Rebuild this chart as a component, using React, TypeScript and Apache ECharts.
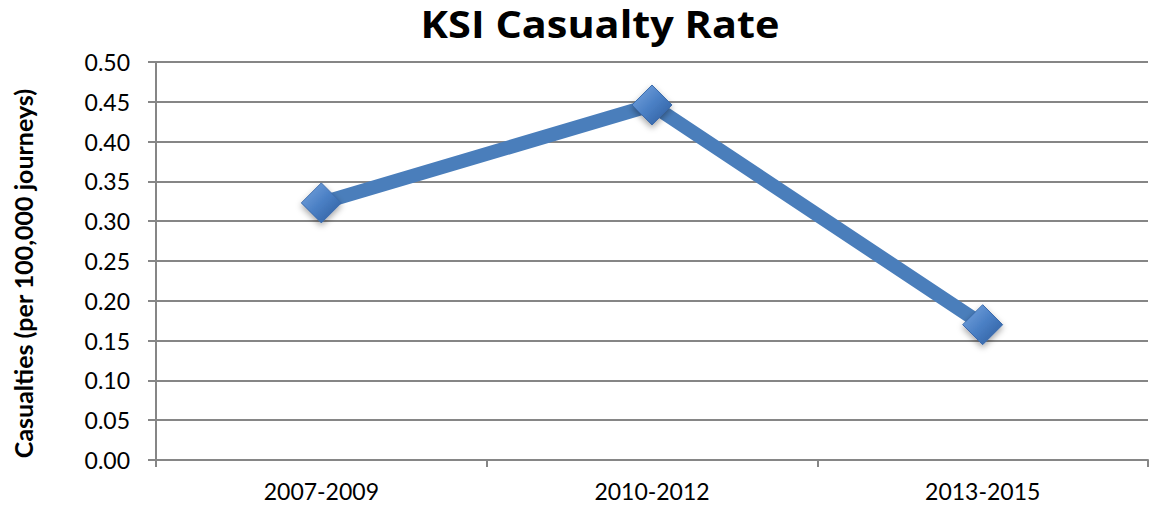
import React, { useEffect, useRef } from "react";
import * as echarts from "echarts";

const titleText = "KSI Casualty Rate";
const yAxisName = "Casualties (per 100,000 journeys)";
const categories = ["2007-2009", "2010-2012", "2013-2015"];
const values = [0.323, 0.446, 0.17];

export default function App() {
  const ref = useRef<HTMLDivElement>(null);
  useEffect(() => {
    if (!ref.current) return;
    const chart = echarts.init(ref.current, null, { renderer: "svg" });
    const font = "Lato, 'Noto Sans', sans-serif";
    chart.setOption({
      animation: false,
      backgroundColor: "#ffffff",
      graphic: [
        {
          type: "text",
          x: 600,
          y: 24,
          scaleX: 1.12,
          style: {
            text: titleText,
            font: "bold 37px 'Open Sans', sans-serif",
            fill: "#000",
            align: "center",
            verticalAlign: "middle",
          },
        },
        {
          type: "text",
          x: 22.5,
          y: 273.5,
          rotation: Math.PI / 2,
          style: {
            text: yAxisName,
            font: "bold 25px Lato, sans-serif",
            fill: "#000",
            align: "center",
            verticalAlign: "middle",
          },
        },
      ],
      grid: { left: 156, right: 1, top: 62, bottom: 46, containLabel: false },
      xAxis: {
        type: "category",
        data: categories,
        boundaryGap: true,
        axisLine: { lineStyle: { color: "#868686", width: 2 } },
        axisTick: { show: true, length: 7, alignWithLabel: false, lineStyle: { color: "#868686", width: 2 } },
        axisLabel: { fontFamily: font, fontSize: 23, color: "#000", margin: 19 },
      },
      yAxis: {
        type: "value",
        min: 0,
        max: 0.5,
        interval: 0.05,
        axisLine: { show: true, lineStyle: { color: "#868686", width: 2 } },
        axisTick: { show: true, length: 8, lineStyle: { color: "#868686", width: 2 } },
        axisLabel: {
          fontFamily: font,
          fontSize: 23,
          color: "#000",
          margin: 26,
          formatter: (v: number) => v.toFixed(2),
        },
        splitLine: { show: true, lineStyle: { color: "#868686", width: 2 } },
      },
      series: [
        {
          type: "line",
          data: values,
          symbol: "diamond",
          symbolSize: 40,
          lineStyle: { color: "#4a7ebb", width: 14 },
          itemStyle: {
            color: {
              type: "linear",
              x: 0,
              y: 0,
              x2: 1,
              y2: 1,
              colorStops: [
                { offset: 0, color: "#7aa7e0" },
                { offset: 0.5, color: "#4a7fc4" },
                { offset: 1, color: "#2b5a9a" },
              ],
            },
            borderColor: "#3a6aab",
            borderWidth: 1,
            shadowColor: "rgba(0,0,0,0.35)",
            shadowBlur: 6,
            shadowOffsetY: 3,
          },
          z: 3,
        },
      ],
    });
    return () => chart.dispose();
  }, []);
  return (
    <div
      ref={ref}
      style={{ position: "fixed", left: 0, top: 0, width: 1149, height: 506 }}
    />
  );
}
